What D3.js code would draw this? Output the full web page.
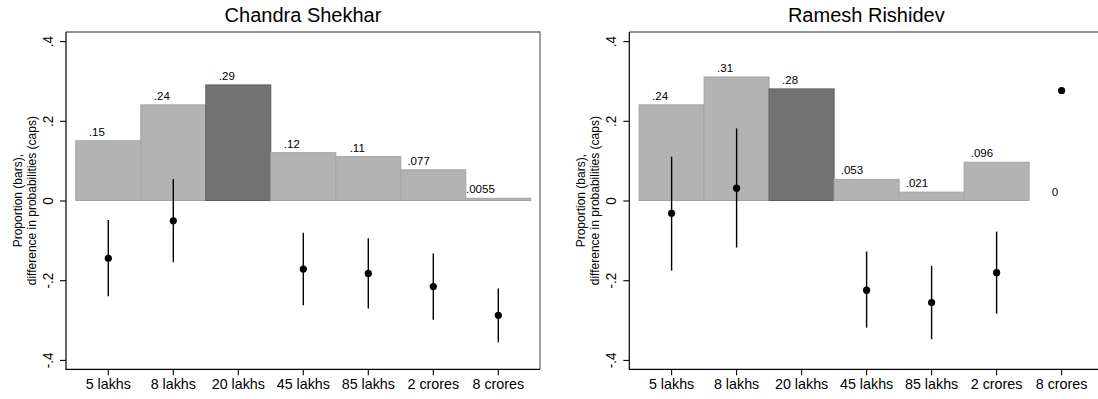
<!DOCTYPE html>
<html>
<head>
<meta charset="utf-8">
<script src="https://cdn.jsdelivr.net/npm/d3@7/dist/d3.min.js"></script>
<style>
  html, body { margin: 0; padding: 0; background: #fff; }
  svg { display: block; font-family: "Liberation Sans", Arial, Helvetica, sans-serif; }
</style>
</head>
<body>
<svg id="chart" width="1098" height="399"></svg>
<script>
// Prize categories on the x axis
const categories = ["5 lakhs", "8 lakhs", "20 lakhs", "45 lakhs", "85 lakhs", "2 crores", "8 crores"];
const referenceCategory = "20 lakhs";

// Y axis ticks
const yTicks = [-0.4, -0.2, 0, 0.2, 0.4];

// Chandra Shekhar: share choosing each category (bars) and differences in probabilities (caps)
const shekharShare = [0.15, 0.24, 0.29, 0.12, 0.11, 0.077, 0.0055];
const shekharDiff  = [-0.145, -0.051, null, -0.172, -0.183, -0.216, -0.288];
const shekharLo    = [-0.240, -0.155, null, -0.263, -0.271, -0.299, -0.356];
const shekharHi    = [-0.049,  0.054, null, -0.081, -0.095, -0.133, -0.221];

// Ramesh Rishidev
const rishidevShare = [0.24, 0.31, 0.28, 0.053, 0.021, 0.096, 0];
const rishidevDiff  = [-0.032, 0.031, null, -0.225, -0.256, -0.181, 0.276];
const rishidevLo    = [-0.176, -0.118, null, -0.319, -0.348, -0.284, null];
const rishidevHi    = [ 0.110,  0.181, null, -0.128, -0.164, -0.078, null];

const panels = [
  { title: "Chandra Shekhar", share: shekharShare, diff: shekharDiff, lo: shekharLo, hi: shekharHi, dx: 0 },
  { title: "Ramesh Rishidev", share: rishidevShare, diff: rishidevDiff, lo: rishidevLo, hi: rishidevHi, dx: 563.3 }
];

// Stata-style number labels: ".15", "-.2", "0"
const fmt = v => {
  if (v === 0) return "0";
  const s = d3.format(".2~g")(Math.abs(v)).replace(/^0\./, ".");
  return (v < 0 ? "-" : "") + s;
};

const svg = d3.select("#chart");
const plot = { left: 66, right: 540, top: 32, bottom: 369.3 };

const y = d3.scaleLinear().domain([-0.4, 0.4]).range([359.9, 41.1]);
const x = d3.scaleBand().domain(categories).range([75.8, 530.8]).padding(0);

panels.forEach(p => {
  const g = svg.append("g").attr("transform", `translate(${p.dx},0)`);

  // title
  g.append("text")
    .attr("x", (plot.left + plot.right) / 2).attr("y", 21.5)
    .attr("text-anchor", "middle")
    .attr("font-size", 20).attr("fill", "#000")
    .text(p.title);

  // plot region outline (top and right)
  g.append("path")
    .attr("d", `M${plot.left},${plot.top}H${plot.right}V${plot.bottom}`)
    .attr("fill", "none").attr("stroke", "#6e6e6e").attr("stroke-width", 1.3);

  // bars
  const bars = categories.map((c, i) => ({ c, v: p.share[i] }));
  g.append("g").selectAll("rect").data(bars).join("rect")
    .attr("x", d => x(d.c))
    .attr("y", d => y(d.v))
    .attr("width", x.bandwidth())
    .attr("height", d => y(0) - y(d.v))
    .attr("fill", d => d.c === referenceCategory ? "#737373" : "#b3b3b3")
    .attr("stroke", d => d.c === referenceCategory ? "#5e5e5e" : "#a4a4a4")
    .attr("stroke-width", 1);

  // bar value labels
  g.append("g").selectAll("text").data(bars).join("text")
    .attr("x", d => x(d.c) + x.bandwidth() / 2 - 3.5)
    .attr("y", d => y(d.v) - 5)
    .attr("text-anchor", "end")
    .attr("font-size", 11.5).attr("fill", "#000")
    .text(d => fmt(d.v));

  // difference estimates with intervals
  const pts = categories.map((c, i) => ({ c, v: p.diff[i], lo: p.lo[i], hi: p.hi[i] }))
    .filter(d => d.v !== null);
  g.append("g").selectAll("line").data(pts.filter(d => d.lo !== null)).join("line")
    .attr("x1", d => x(d.c) + x.bandwidth() / 2)
    .attr("x2", d => x(d.c) + x.bandwidth() / 2)
    .attr("y1", d => y(d.hi))
    .attr("y2", d => y(d.lo))
    .attr("stroke", "#000").attr("stroke-width", 1.4);
  g.append("g").selectAll("circle").data(pts).join("circle")
    .attr("cx", d => x(d.c) + x.bandwidth() / 2)
    .attr("cy", d => y(d.v))
    .attr("r", 3.6)
    .attr("fill", "#000");

  // y axis
  const ya = g.append("g").attr("transform", `translate(${plot.left},0)`)
    .call(d3.axisLeft(y).tickValues(yTicks).tickSize(6).tickSizeOuter(0).tickFormat(fmt));
  ya.select(".domain").remove();
  ya.selectAll(".tick line").attr("stroke", "#000").attr("stroke-width", 1.1);
  ya.selectAll(".tick text")
    .attr("x", 0).attr("dy", null)
    .attr("text-anchor", "middle")
    .attr("transform", "translate(-13,0) rotate(-90) scale(1,1.1)")
    .attr("font-size", 13.5).attr("fill", "#000")
    .attr("font-family", null);

  // x axis
  const xa = g.append("g").attr("transform", `translate(0,${plot.bottom})`)
    .call(d3.axisBottom(x).tickSize(6).tickSizeOuter(0));
  xa.select(".domain").remove();
  xa.selectAll(".tick line").attr("stroke", "#000").attr("stroke-width", 1.1);
  xa.selectAll(".tick text")
    .attr("y", 19.4).attr("dy", null)
    .attr("font-size", 14.3).attr("fill", "#000")
    .attr("font-family", null);

  // axis lines
  g.append("path")
    .attr("d", `M${plot.left},${plot.top}V${plot.bottom}H${plot.right}`)
    .attr("fill", "none").attr("stroke", "#000").attr("stroke-width", 1.2);

  // y axis title
  const ty = g.append("text")
    .attr("transform", `translate(22,${(plot.top + plot.bottom) / 2}) rotate(-90) scale(1,1.1)`)
    .attr("text-anchor", "middle")
    .attr("font-size", 12).attr("fill", "#000");
  ty.append("tspan").attr("x", 0).attr("y", 0).text("Proportion (bars),");
  ty.append("tspan").attr("x", 0).attr("y", 12.3).text("difference in probabilities (caps)");
});
</script>
</body>
</html>
